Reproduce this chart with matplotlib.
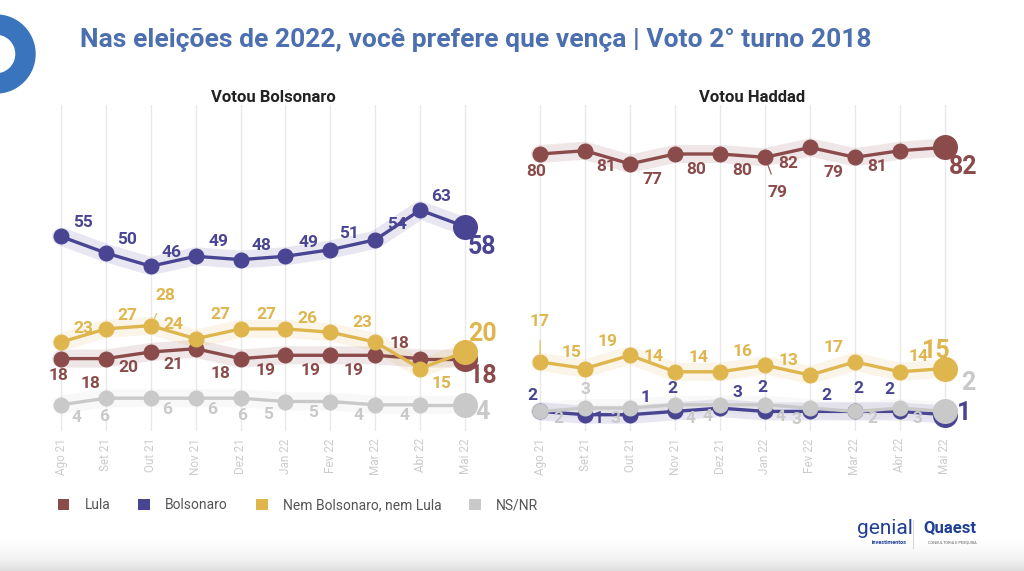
import matplotlib
matplotlib.use("Agg")
import matplotlib.pyplot as plt
import numpy as np
from matplotlib.patches import Patch, Wedge

plt.rcParams["font.family"] = ["Roboto", "DejaVu Sans"]

months = ["Ago 21", "Set 21", "Out 21", "Nov 21", "Dez 21", "Jan 22", "Fev 22", "Mar 22", "Abr 22", "Mai 22"]
series = ["Lula", "Bolsonaro", "Nem Bolsonaro, nem Lula", "NS/NR"]

# Votou Bolsonaro
bolso_lula = [18, 18, 20, 21, 18, 19, 19, 19, 18, 18]
bolso_bolsonaro = [55, 50, 46, 49, 48, 49, 51, 54, 63, 58]
bolso_nem = [23, 27, 28, 24, 27, 27, 26, 23, 15, 20]
bolso_nsnr = [4, 6, 6, 6, 6, 5, 5, 4, 4, 4]

# Votou Haddad
haddad_lula = [80, 81, 77, 80, 80, 79, 82, 79, 81, 82]
haddad_bolsonaro = [2, 1, 1, 2, 3, 2, 2, 2, 2, 1]
haddad_nem = [17, 15, 19, 14, 14, 16, 13, 17, 14, 15]
haddad_nsnr = [2, 3, 3, 4, 4, 4, 3, 2, 3, 2]

colors = {"Lula": "#8b4b4b", "Bolsonaro": "#4a4593",
          "Nem Bolsonaro, nem Lula": "#dfb64e", "NS/NR": "#c9c9c9"}
zorders = {"Lula": 2, "Bolsonaro": 3, "NS/NR": 4, "Nem Bolsonaro, nem Lula": 5}

# label offsets in pixels (dx, dy up)
off_left = {
    "Lula": [(-3, -17), (-15, -25), (-22, -15), (-22, -16), (-20, -15), (-20, -15), (-20, -15), (-22, -15), (-21, 15), (18, -17)],
    "Bolsonaro": [(22, 14), (21, 14), (21, 14), (23, 15), (21, 14), (23, 14), (19, 16), (22, 15), (21, 14), (17, -20)],
    "Nem Bolsonaro, nem Lula": [(22, 14), (21, 13), (15, 30), (-22, 14), (-20, 14), (-19, 14), (-23, 14), (-13, 20), (21, -15), (17, 18)],
    "NS/NR": [(16, -13), (-2, -18), (16, -11), (16, -11), (2, -17), (-17, -13), (-17, -11), (-17, -11), (-16, -11), (18, -7)],
}
lead_left = {"Nem Bolsonaro, nem Lula": [2]}
off_right = {
    "Lula": [(-4, -18), (21, -16), (22, -16), (21, -16), (22, -17), (13, -35), (-22, -16), (-21, -15), (-23, -16), (18, -20)],
    "Bolsonaro": [(-8, 16), (14, -4), (16, 17), (-3, 23), (17, 16), (-3, 24), (16, 16), (3, 23), (-11, 22), (19, 2)],
    "Nem Bolsonaro, nem Lula": [(0, 40), (-14, 16), (-22, 14), (-21, 15), (-21, 14), (-22, 14), (-21, 15), (-21, 14), (19, 15), (-9, 17)],
    "NS/NR": [(18, -7), (0, 19), (-15, -10), (16, -14), (-12, -12), (16, -12), (-14, -11), (17, -7), (17, -10), (23, 28)],
}
lead_right = {"Lula": [5], "Nem Bolsonaro, nem Lula": [0], "NS/NR": [9]}

W, H = 1024, 571
fig = plt.figure(figsize=(W / 100, H / 100), dpi=100)
fig.patch.set_facecolor("white")

# decoration layer in pixel coordinates
deco = fig.add_axes([0, 0, 1, 1], zorder=-1)
grad = np.linspace(0, 1, 50).reshape(-1, 1) ** 1.5
deco.imshow(grad, extent=(0, W, H, 538), cmap="Greys", vmin=0, vmax=4.5, aspect="auto", zorder=0)
deco.set_xlim(0, W)
deco.set_ylim(H, 0)
deco.axis("off")
deco.add_patch(Wedge((-4, 54), 39, 0, 360, width=19, color="#3a74bd"))
deco.text(80, 40, "Nas eleições de 2022, você prefere que vença | Voto 2° turno 2018",
          fontsize=19, fontweight="bold", color="#4c6faf", va="center", ha="left")
deco.text(273, 98, "Votou Bolsonaro", fontsize=12, fontweight="bold", color="#222222", ha="center", va="center")
deco.text(752, 98, "Votou Haddad", fontsize=12, fontweight="bold", color="#222222", ha="center", va="center")
deco.text(885, 528, "genial", fontsize=15, color="#1f3f95", ha="center", va="center")
deco.text(889, 542, "investimentos", fontsize=4, fontweight="bold", color="#1f3f95", ha="center", va="center")
deco.plot([913, 913], [520, 548], color="#d8d8d8", lw=0.8)
deco.text(950, 528, "Quaest", fontsize=12, fontweight="bold", color="#1f3f95", ha="center", va="center")
deco.text(952, 543, "CONSULTORIA E PESQUISA", fontsize=2.8, color="#555555", ha="center", va="center")


def px_axes(x0, x1, y_top, y_bot):
    return [x0 / W, 1 - y_bot / H, (x1 - x0) / W, (y_bot - y_top) / H]


def draw_panel(ax, data, offsets, leaders):
    x = np.arange(len(months))
    for name in series:
        vals = data[name]
        c = colors[name]
        z = zorders[name]
        ax.plot(x, vals, color=c, lw=13, alpha=0.13, solid_capstyle="round", zorder=1)
        ax.plot(x[:-1], vals[:-1], color=c, lw=2.4, marker="o", ms=10.5, zorder=z)
        ax.plot(x[-2:], vals[-2:], color=c, lw=2.4, zorder=z)
        ax.plot(x[-1], vals[-1], marker="o", ms=17, color=c, zorder=z)
        for i, v in enumerate(vals):
            last = i == len(vals) - 1
            lead = i in leaders.get(name, [])
            ax.annotate(str(v), (x[i], v), xytext=offsets[name][i], textcoords="offset pixels",
                        ha="center", va="center", color=c, fontweight="bold",
                        fontsize=18 if last else 12.5, zorder=10,
                        arrowprops=dict(arrowstyle="-", color=c, lw=0.8, shrinkA=6, shrinkB=6) if lead else None)
    ax.set_xlim(-0.45, 9.45)
    ax.set_ylim(-4, 95)
    ax.set_xticks(x)
    ax.set_xticklabels(months, rotation=90, fontsize=8.5, color="#cccccc")
    ax.tick_params(axis="x", length=0, pad=5)
    ax.set_yticks([])
    ax.grid(axis="x", color="#e9e9e9", lw=1)
    ax.set_axisbelow(True)
    for s in ax.spines.values():
        s.set_visible(False)
    ax.patch.set_alpha(0)


ax1 = fig.add_axes(px_axes(40.8, 485.2, 104.5, 431.2))
draw_panel(ax1, {"Lula": bolso_lula, "Bolsonaro": bolso_bolsonaro,
                 "Nem Bolsonaro, nem Lula": bolso_nem, "NS/NR": bolso_nsnr}, off_left, lead_left)
ax2 = fig.add_axes(px_axes(519.8, 965.2, 104.5, 431.2))
draw_panel(ax2, {"Lula": haddad_lula, "Bolsonaro": haddad_bolsonaro,
                 "Nem Bolsonaro, nem Lula": haddad_nem, "NS/NR": haddad_nsnr}, off_right, lead_right)

handles = [Patch(facecolor=colors[n], edgecolor="none") for n in series]
leg = fig.legend(handles, series, loc="center left", bbox_to_anchor=(45 / W, 1 - 505 / H), ncol=4,
                 frameon=False, prop={"size": 10}, handlelength=0.85, handleheight=0.85,
                 handletextpad=1.1, columnspacing=2.0)
for t in leg.get_texts():
    t.set_color("#555555")

fig.savefig("out.png", dpi=100, facecolor="white")
